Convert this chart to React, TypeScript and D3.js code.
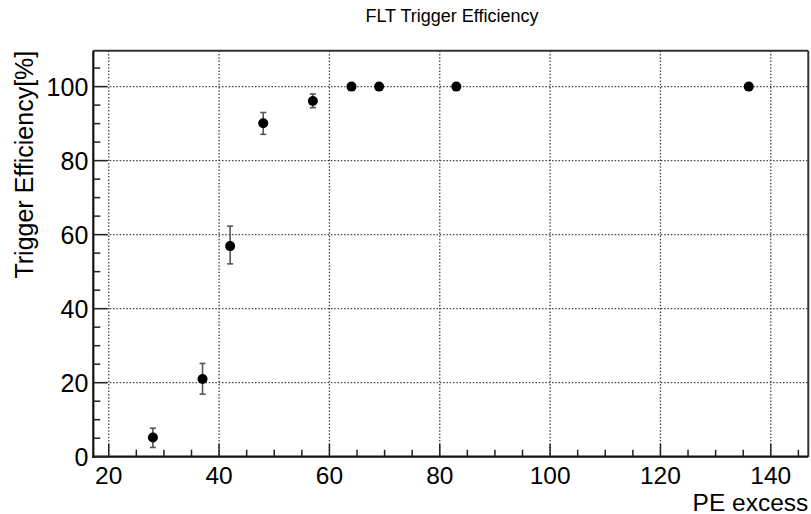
import React from "react";
import * as d3 from "d3";

const xValues = [28, 37, 42, 48, 57, 64, 69, 83, 136];
const yValues = [5.2, 21.0, 56.9, 90.1, 96.1, 100, 100, 100, 100];
const errLow = [2.7, 4.1, 4.8, 3.0, 1.8, 0, 0, 0, 0];
const errHigh = [2.5, 4.2, 5.4, 2.9, 1.9, 0, 0, 0, 0];
const xTicks = [20, 40, 60, 80, 100, 120, 140];
const yTicks = [0, 20, 40, 60, 80, 100];
const title = "FLT Trigger Efficiency";
const xTitle = "PE excess";
const yTitle = "Trigger Efficiency[%]";

const W = 811;
const H = 514;
const left = 93.3;
const right = 808.3;
const top = 50.7;
const bottom = 456.7;
const FONT = "'Liberation Sans', Arial, Helvetica, sans-serif";

export default function App() {
  const x = d3.scaleLinear().domain([17.2, 146.8]).range([left, right]);
  const y = d3.scaleLinear().domain([0, 109.7]).range([bottom, top]);
  const xMinor = d3.range(20, 147, 5).filter((v) => v % 20 !== 0);
  const yMinor = d3.range(0, 110, 5).filter((v) => v % 20 !== 0);

  return (
    <svg
      width={W}
      height={H}
      style={{ position: "absolute", left: 0, top: 0, background: "#fff" }}
      fontFamily={FONT}
    >
      <rect x={0} y={0} width={W} height={H} fill="#fff" />
      {/* grid */}
      {xTicks.map((t) => (
        <line key={"gx" + t} x1={x(t)} x2={x(t)} y1={top} y2={bottom} stroke="#444" strokeWidth={1.3} strokeDasharray="1.5,1.8" />
      ))}
      {yTicks.filter((t) => t > 0).map((t) => (
        <line key={"gy" + t} x1={left} x2={right} y1={y(t)} y2={y(t)} stroke="#444" strokeWidth={1.3} strokeDasharray="1.5,1.8" />
      ))}
      {/* frame */}
      <line x1={left} x2={right} y1={top} y2={top} stroke="#333" strokeWidth={2} />
      <line x1={right} x2={right} y1={top} y2={bottom} stroke="#333" strokeWidth={2} />
      <line x1={left} x2={left} y1={top} y2={bottom + 1} stroke="#111" strokeWidth={2.2} />
      <line x1={left - 1} x2={right} y1={bottom} y2={bottom} stroke="#111" strokeWidth={2.2} />
      {/* x ticks */}
      {xTicks.map((t) => (
        <line key={"xt" + t} x1={x(t)} x2={x(t)} y1={bottom} y2={bottom - 13} stroke="#222" strokeWidth={1.5} />
      ))}
      {xMinor.map((t) => (
        <line key={"xm" + t} x1={x(t)} x2={x(t)} y1={bottom} y2={bottom - 7} stroke="#222" strokeWidth={1.5} />
      ))}
      {yTicks.map((t) => (
        <line key={"yt" + t} x1={left} x2={left + 14} y1={y(t)} y2={y(t)} stroke="#222" strokeWidth={1.5} />
      ))}
      {yMinor.map((t) => (
        <line key={"ym" + t} x1={left} x2={left + 7} y1={y(t)} y2={y(t)} stroke="#222" strokeWidth={1.5} />
      ))}
      {/* tick labels */}
      {xTicks.map((t) => (
        <text key={"xl" + t} x={x(t)} y={bottom + 27.5} textAnchor="middle" fontSize={24.5} fill="#000">
          {t}
        </text>
      ))}
      {yTicks.map((t) => (
        <text key={"yl" + t} x={left - 5} y={y(t) + 9} textAnchor="end" fontSize={25} fill="#000">
          {t}
        </text>
      ))}
      {/* titles */}
      <text x={452} y={21.5} textAnchor="middle" fontSize={18} fill="#000">
        {title}
      </text>
      <text x={right} y={510.5} textAnchor="end" fontSize={24.5} fill="#000">
        {xTitle}
      </text>
      <text transform={`translate(33,${top}) rotate(-90)`} textAnchor="end" fontSize={25} fill="#000">
        {yTitle}
      </text>
      {/* error bars */}
      {xValues.map((v, i) =>
        errLow[i] > 0 || errHigh[i] > 0 ? (
          <g key={"e" + i} stroke="#555" strokeWidth={1.6}>
            <line x1={x(v)} x2={x(v)} y1={y(yValues[i] + errHigh[i])} y2={y(yValues[i] - errLow[i])} />
            <line x1={x(v) - 3} x2={x(v) + 3} y1={y(yValues[i] + errHigh[i])} y2={y(yValues[i] + errHigh[i])} />
            <line x1={x(v) - 3} x2={x(v) + 3} y1={y(yValues[i] - errLow[i])} y2={y(yValues[i] - errLow[i])} />
          </g>
        ) : null
      )}
      {/* markers */}
      {xValues.map((v, i) => (
        <circle key={"p" + i} cx={x(v)} cy={y(yValues[i])} r={5} fill="#000" />
      ))}
    </svg>
  );
}
